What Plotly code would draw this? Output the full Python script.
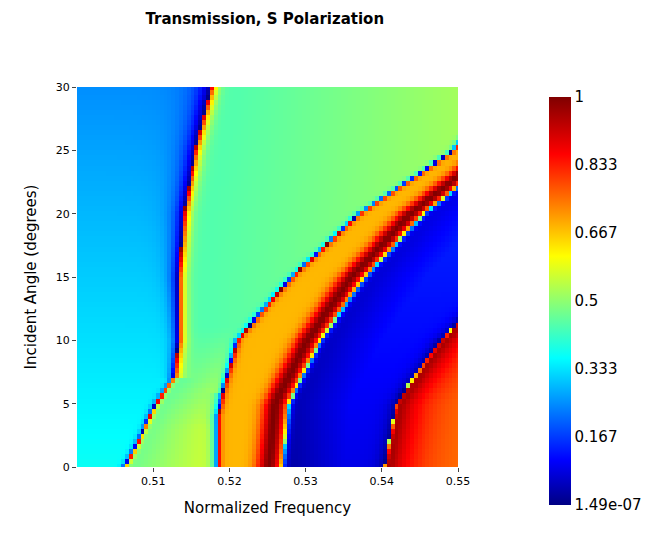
import numpy as np
import plotly.graph_objects as go

# Feature curves (incident angle -> normalized frequency)
A_ang = [0, 2, 5, 7, 10, 15, 20, 25, 30]
A_freq = [0.5063, 0.5080, 0.5103, 0.5127, 0.5133, 0.5133, 0.5140, 0.5155, 0.5175]
B_ang = [0, 4, 6, 10, 15, 20, 25, 30]
B_freq = [0.5185, 0.5185, 0.5192, 0.5210, 0.5282, 0.5371, 0.5495, 0.556]
C_ang = [0, 5, 10, 15, 20, 25]
C_freq = [0.5270, 0.5278, 0.5320, 0.5378, 0.5456, 0.556]
D_ang = [0, 5, 10, 15]
D_freq = [0.5403, 0.5418, 0.5476, 0.556]

freqs = np.linspace(0.5, 0.55, 100)
angles = np.linspace(0, 30, 76)
cb_ticks = [1.49e-07, 0.167, 0.333, 0.5, 0.667, 0.833, 1]

Z = np.zeros((len(angles), len(freqs)))
for i, ang in enumerate(angles):
    A = np.interp(ang, A_ang, A_freq)
    B = np.interp(ang, B_ang, B_freq)
    C = np.interp(ang, C_ang, C_freq, right=0.6)
    D = np.interp(ang, D_ang, D_freq, right=0.6)
    wAl = 0.00025 if ang < 7 else 0.0004 + 0.0012 * (ang - 7) / 23
    wAr = 0.00025 if ang < 7 else 0.0006
    t = min(max((ang - 3) / 8, 0), 1)
    for j, f in enumerate(freqs):
        if f < A:
            base = 0.37 - 0.12 * ang / 30
            v = base * (1 - np.exp(-(A - f) / wAl))
        elif f < B:
            lo = 0.46 + 0.12 * (f - A) / max(B - A, 1e-4)
            hi = 0.43 + 0.09 * (f - A) / (0.55 - A)
            base = lo * (1 - t) + hi * t
            v = base + (1 - base) * np.exp(-(f - A) / wAr)
            v -= base * np.exp(-(B - f) / (0.0005 if ang < 6 else 0.0003))
        elif f < C:
            P = C - 0.0018
            hi = 0.68 + 0.32 * np.exp(-((f - P) / 0.0016) ** 2)
            hi += (1 - hi) * np.exp(-(f - B) / 0.0003)
            s = np.exp(-(C - f) / 0.00025)
            v = hi * (1 - s) + 0.45 * s
        elif f < D:
            mid = 0.02 + 0.07 * min((f - C) / 0.008, 1) + 0.08 * ang / 30
            v = mid + 0.3 * np.exp(-(f - C) / 0.0003)
            v = v * (1 - np.exp(-(D - f) / 0.0008)) * 0.9 + 0.1 * v
        else:
            v = 0.74 + 0.28 * np.exp(-(f - D) / 0.0035)
            v = v * (1 - 0.5 * np.exp(-(f - D) / 0.0002))
        Z[i, j] = min(max(v, 1.49e-07), 1)

jet = [[0, "rgb(0,0,131)"], [0.11, "rgb(0,0,255)"], [0.36, "rgb(0,255,255)"],
       [0.61, "rgb(255,255,0)"], [0.86, "rgb(255,0,0)"], [1, "rgb(128,0,0)"]]

fig = go.Figure(go.Heatmap(
    x=freqs, y=angles, z=Z, colorscale=jet, zmin=1.49e-07, zmax=1,
    colorbar=dict(tickvals=cb_ticks, ticktext=["1.49e-07", "0.167", "0.333", "0.5", "0.667", "0.833", "1"],
                  x=1.212, xanchor="left", thickness=22, len=1.126, y=0.437, yanchor="middle",
                  outlinewidth=0, ticks="", tickfont=dict(size=15)),
))
fig.update_layout(
    width=650, height=530, margin=dict(l=69, r=200, t=79, b=71, autoexpand=False),
    font=dict(family="DejaVu Sans", color="black"),
    plot_bgcolor="white", paper_bgcolor="white",
    title=dict(text="<b>Transmission, S Polarization</b>", x=0.395, xanchor="center",
               yref="container", y=0.99, yanchor="top", pad=dict(t=0),
               font=dict(size=15)),
    xaxis=dict(title=dict(text="Normalized Frequency", font=dict(size=15)), range=[0.5, 0.55],
               tickvals=[0.51, 0.52, 0.53, 0.54, 0.55], ticks="outside", ticklen=4, tickfont=dict(size=11),
               showgrid=False, zeroline=False, automargin=False),
    yaxis=dict(title=dict(text="Incident Angle (degrees)", font=dict(size=15)), range=[0, 30],
               tickvals=[0, 5, 10, 15, 20, 25, 30], ticks="outside", ticklen=4, tickfont=dict(size=11),
               showgrid=False, zeroline=False, automargin=False),
)
fig.write_html("out.html")
